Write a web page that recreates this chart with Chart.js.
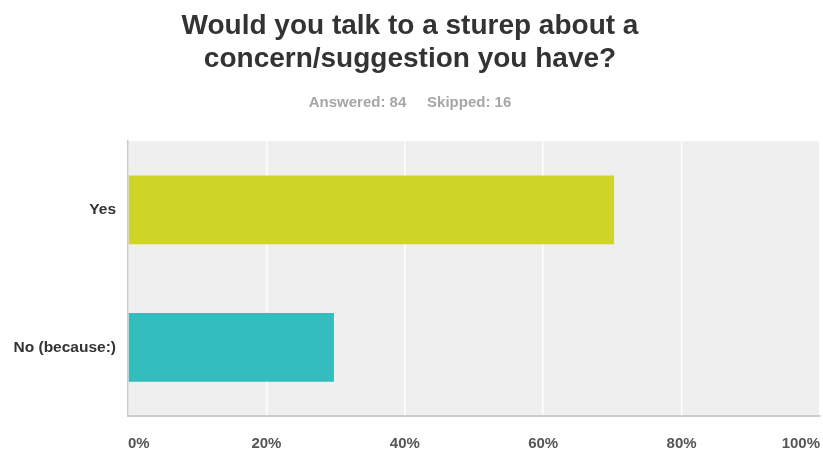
<!DOCTYPE html>
<html>
<head>
<meta charset="utf-8">
<script src="https://cdn.jsdelivr.net/npm/chart.js@4/dist/chart.umd.min.js"></script>
<style>
  html, body { margin: 0; padding: 0; background: #fff; }
  #wrap { width: 823px; height: 452px; position: relative; }
</style>
</head>
<body>
<div id="wrap"><canvas id="c" width="823" height="452"></canvas></div>
<script>
// Survey question and response summary
const titleLines = ['Would you talk to a sturep about a', 'concern/suggestion you have?'];
const answered = 84;
const skipped = 16;

// Answer choices and their share of responses (%)
const categories = ['Yes', 'No (because:)'];
const shares = [70.24, 29.76];
const barColors = ['#cfd527', '#33bdbe'];

// Axis ticks (%)
const tickValues = [0, 20, 40, 60, 80, 100];

// Grey plot background behind the bars
const plotBackground = {
  id: 'plotBackground',
  beforeDraw(chart) {
    const { ctx, chartArea: a } = chart;
    ctx.save();
    ctx.fillStyle = '#efefef';
    ctx.fillRect(a.left, a.top, a.right - a.left, a.bottom - a.top);
    ctx.restore();
  }
};

const font = 'Liberation Sans, Arial, Helvetica, sans-serif';

new Chart(document.getElementById('c'), {
  type: 'bar',
  data: {
    labels: categories,
    datasets: [{
      data: shares,
      backgroundColor: barColors,
      borderWidth: 0,
      barPercentage: 0.5,
      categoryPercentage: 1.0
    }]
  },
  options: {
    indexAxis: 'y',
    responsive: false,
    animation: false,
    layout: { padding: { left: 0, right: 3, top: 0, bottom: 0 } },
    plugins: {
      legend: { display: false },
      tooltip: { enabled: false },
      title: {
        display: true,
        text: titleLines,
        color: '#333333',
        font: { family: font, size: 28, weight: 'bold', lineHeight: 1.2 },
        padding: { top: 9, bottom: 4 }
      },
      subtitle: {
        display: true,
        text: 'Answered: ' + answered + '     Skipped: ' + skipped,
        color: '#a6a6a6',
        font: { family: font, size: 15, weight: 'bold', lineHeight: 1.2 },
        padding: { top: 14, bottom: 29 }
      }
    },
    scales: {
      x: {
        min: 0,
        max: 100,
        afterBuildTicks(scale) { scale.ticks = tickValues.map(v => ({ value: v })); },
        grid: { color: '#ffffff', lineWidth: 1.5, drawTicks: false },
        border: { display: true, color: '#cccccc', width: 2 },
        ticks: {
          align: 'inner',
          padding: 19,
          color: '#555555',
          font: { family: font, size: 15, weight: 'bold' },
          callback: v => v + '%'
        },
        afterFit(scale) {
          scale.height = 36;
          scale.paddingLeft = 0;
          scale.paddingRight = 0;
        }
      },
      y: {
        grid: { display: false, drawTicks: false },
        border: { display: true, color: '#cccccc', width: 1.5 },
        ticks: {
          padding: 12,
          color: '#333333',
          font: { family: font, size: 15.5, weight: 'bold' }
        },
        afterFit(scale) { scale.width = 128; }
      }
    }
  },
  plugins: [plotBackground]
});
</script>
</body>
</html>
